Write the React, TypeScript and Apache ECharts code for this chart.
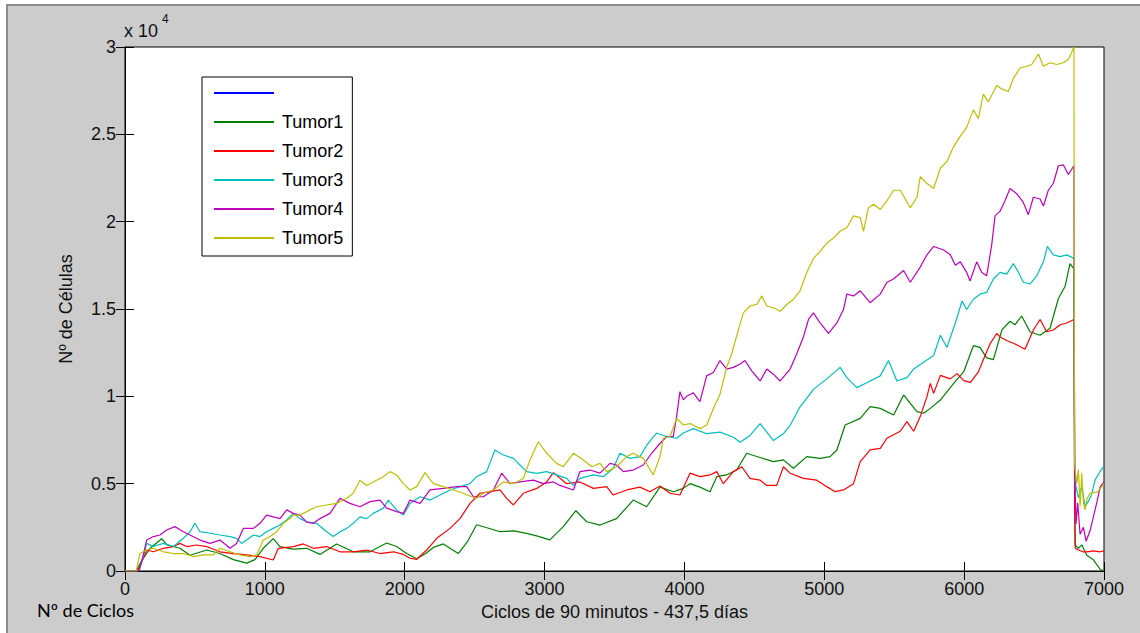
import React, { useEffect, useRef } from "react";
import * as echarts from "echarts";

const seriesNames = [" ", "Tumor1", "Tumor2", "Tumor3", "Tumor4", "Tumor5"];
const seriesColors = ["#0000ff", "#008000", "#ff0000", "#00bfbf", "#bf00bf", "#bfbf00"];

const xMin = 0;
const xMax = 7000;
const xInterval = 1000;
const yMin = 0;
const yMax = 30000;
const yInterval = 5000;

const blueLine: number[][] = [];

const tumor1: number[][] = [
  [0, 0], [80, 0], [120, 600], [180, 1300], [262, 1850], [300, 1500], [393, 1300], [465, 900], [584, 1200],
  [679, 1000], [775, 650], [870, 450], [929, 650], [989, 1300], [1060, 1850], [1108, 1400], [1203, 1250],
  [1299, 1300], [1394, 950], [1513, 1550], [1632, 1100], [1752, 1100], [1871, 1600], [1942, 1400], [2014, 1000],
  [2086, 700], [2150, 1000], [2205, 1350], [2276, 1550], [2383, 1000], [2450, 1700], [2514, 2650], [2600, 2450],
  [2681, 2250], [2780, 2300], [2872, 2150], [2950, 2000], [3038, 1780], [3134, 2540], [3224, 3450], [3301, 2820],
  [3396, 2630], [3515, 3000], [3634, 4060], [3730, 3680], [3825, 4800], [3921, 4540], [3992, 4730], [4040, 5000],
  [4111, 4800], [4183, 4540], [4231, 5400], [4300, 5500], [4374, 5780], [4445, 6740], [4540, 6500], [4636, 6260],
  [4708, 6360], [4779, 5880], [4875, 6550], [4970, 6450], [5042, 6550], [5090, 6930], [5149, 8360], [5257, 8740],
  [5328, 9410], [5400, 9310], [5496, 8930], [5567, 10080], [5662, 9120], [5710, 9030], [5758, 9310], [5830, 9790],
  [5925, 10740], [5997, 11410], [6066, 12900], [6113, 12800], [6161, 12200], [6209, 12100], [6270, 13800],
  [6328, 14300], [6364, 14100], [6411, 14600], [6471, 13700], [6543, 13500], [6614, 13900], [6674, 15600],
  [6722, 16300], [6757, 17600], [6785, 17300], [6793, 1500], [6817, 1300], [6841, 1500], [6877, 900],
  [6924, 640], [6972, 100], [7000, 0],
];

const tumor2: number[][] = [
  [0, 0], [90, 0], [130, 700], [155, 1200], [203, 1100], [274, 1300], [346, 1400], [393, 1580], [441, 1400],
  [512, 1490], [584, 1400], [679, 1100], [775, 1000], [870, 920], [965, 820], [1060, 630], [1096, 1300],
  [1203, 1400], [1275, 1550], [1347, 1300], [1442, 1400], [1537, 1100], [1632, 1100], [1728, 1200], [1823, 1000],
  [1918, 1100], [1990, 950], [2038, 730], [2086, 670], [2157, 1200], [2229, 1870], [2324, 2440], [2395, 3000],
  [2467, 3870], [2538, 4450], [2610, 4540], [2681, 4640], [2729, 4160], [2777, 3780], [2848, 4450], [2944, 4730],
  [3015, 5100], [3063, 5630], [3158, 5000], [3253, 5100], [3349, 4730], [3444, 4830], [3491, 4350], [3587, 4640],
  [3682, 4800], [3753, 4540], [3825, 4870], [3897, 4450], [3968, 4350], [4040, 5600], [4111, 5400], [4183, 5500],
  [4231, 5690], [4278, 5000], [4350, 5690], [4410, 5970], [4469, 5300], [4541, 5200], [4588, 4900], [4660, 4900],
  [4708, 5970], [4755, 5600], [4851, 5300], [4946, 5200], [5018, 4830], [5078, 4540], [5137, 4640], [5209, 5000],
  [5257, 6260], [5328, 6930], [5400, 7020], [5448, 7600], [5543, 8000], [5591, 8550], [5639, 8000], [5686, 8840],
  [5734, 9980], [5758, 10740], [5782, 10170], [5830, 11200], [5901, 11000], [5949, 11300], [5997, 10900],
  [6045, 10800], [6102, 11400], [6137, 12100], [6185, 13000], [6233, 13600], [6257, 13400], [6304, 13200],
  [6364, 13000], [6435, 12700], [6495, 13800], [6543, 14400], [6590, 13700], [6638, 13800], [6686, 14100],
  [6733, 14200], [6785, 14400], [6790, 3300], [6795, 1300], [6817, 1200], [6850, 1100], [6877, 1100],
  [6924, 1150], [6972, 1100], [7000, 1150],
];

const tumor3: number[][] = [
  [0, 0], [100, 0], [130, 800], [155, 1580], [203, 1400], [274, 1580], [346, 1400], [417, 1870], [465, 2250],
  [500, 2730], [536, 2250], [608, 2160], [679, 2060], [751, 1970], [798, 1870], [834, 1580], [870, 1770],
  [918, 2060], [965, 1970], [1013, 2250], [1060, 2440], [1108, 2630], [1156, 2920], [1203, 3300], [1251, 3000],
  [1299, 2820], [1370, 2730], [1442, 2250], [1489, 1970], [1537, 2250], [1585, 2440], [1632, 2730], [1680, 3100],
  [1728, 3000], [1775, 3300], [1847, 3600], [1883, 4060], [1942, 3500], [1990, 3200], [2038, 3870], [2110, 4250],
  [2181, 4060], [2253, 4350], [2324, 4640], [2395, 4830], [2467, 5000], [2514, 5400], [2586, 5690], [2645, 6930],
  [2705, 6640], [2777, 6450], [2824, 6070], [2872, 5690], [2944, 5590], [3015, 5690], [3086, 5500], [3158, 5300],
  [3206, 4900], [3253, 5300], [3349, 5500], [3420, 5400], [3491, 5880], [3539, 6740], [3611, 6450], [3682, 6550],
  [3730, 7200], [3801, 7900], [3873, 7700], [3944, 7600], [3992, 7900], [4064, 8150], [4159, 7860], [4254, 7950],
  [4350, 7660], [4398, 7370], [4469, 7760], [4541, 8440], [4589, 7950], [4636, 7470], [4708, 7860], [4756, 8340],
  [4827, 9400], [4923, 10400], [5018, 11000], [5113, 11660], [5161, 11070], [5233, 10500], [5304, 10780],
  [5400, 11170], [5459, 12050], [5519, 10880], [5591, 11070], [5639, 11560], [5710, 11950], [5782, 12340],
  [5830, 13500], [5877, 12800], [5937, 14200], [5985, 15460], [6018, 14970], [6066, 15560], [6113, 15850],
  [6161, 15950], [6209, 16720], [6257, 17100], [6304, 17000], [6352, 17600], [6388, 17100], [6423, 16530],
  [6471, 16430], [6519, 16900], [6567, 17700], [6595, 18580], [6638, 18100], [6686, 18000], [6733, 18100],
  [6785, 17900], [6790, 5200], [6817, 4200], [6841, 4800], [6865, 3700], [6889, 4000], [6912, 4400],
  [6936, 5200], [6972, 5700], [7000, 6000],
];

const tumor4: number[][] = [
  [0, 0], [100, 0], [130, 900], [155, 1770], [203, 1970], [250, 2060], [298, 2350], [357, 2540], [417, 2250],
  [465, 2060], [536, 1770], [608, 1580], [679, 1770], [751, 1300], [798, 1580], [846, 2440], [918, 2440],
  [965, 2730], [1013, 3200], [1060, 3100], [1108, 3000], [1156, 3500], [1203, 3300], [1251, 3200], [1299, 2800],
  [1347, 2730], [1394, 3000], [1466, 3300], [1537, 4160], [1608, 3870], [1680, 3680], [1752, 3970], [1823, 4060],
  [1871, 3600], [1942, 3400], [1990, 3300], [2038, 4060], [2110, 3870], [2181, 4640], [2276, 4730], [2371, 4830],
  [2443, 4830], [2491, 4250], [2562, 4250], [2634, 4640], [2693, 5600], [2753, 5000], [2824, 5100], [2920, 5200],
  [2991, 5000], [3063, 5100], [3110, 4900], [3206, 4640], [3253, 5690], [3325, 5780], [3396, 5600], [3468, 6160],
  [3515, 6070], [3563, 5690], [3634, 5780], [3706, 6070], [3765, 6740], [3825, 7300], [3873, 7700], [3920, 7700],
  [3944, 8840], [3968, 10270], [3992, 9800], [4016, 10000], [4064, 10200], [4111, 9700], [4159, 11170],
  [4207, 11360], [4254, 12050], [4302, 11560], [4350, 11660], [4398, 11850], [4433, 12050], [4481, 11460],
  [4541, 10880], [4589, 11560], [4636, 11270], [4684, 10880], [4756, 11560], [4803, 12440], [4851, 13400],
  [4887, 14400], [4923, 14780], [4970, 14200], [5030, 13600], [5090, 14200], [5137, 14970], [5161, 15850],
  [5209, 15750], [5257, 16040], [5328, 15360], [5400, 15850], [5448, 16530], [5495, 16720], [5567, 17200],
  [5615, 16530], [5686, 17400], [5734, 18100], [5782, 18580], [5854, 18380], [5901, 18100], [5937, 17500],
  [5973, 17700], [6018, 17100], [6042, 16600], [6090, 17700], [6125, 17100], [6161, 16900], [6197, 18670],
  [6221, 20330], [6257, 20600], [6292, 21200], [6328, 21900], [6376, 21600], [6423, 21100], [6459, 20400],
  [6495, 21400], [6543, 21300], [6567, 20900], [6602, 21800], [6638, 22200], [6674, 23200], [6710, 23250],
  [6745, 22700], [6785, 23200], [6790, 5800], [6800, 2700], [6812, 3900], [6829, 2100], [6853, 2500],
  [6872, 1700], [6900, 2300], [6924, 3100], [6948, 3900], [6972, 4800], [7000, 5100],
];

const tumor5: number[][] = [
  [0, 0], [80, 0], [107, 1000], [155, 1200], [203, 1300], [274, 1100], [346, 1000], [417, 1000], [489, 820],
  [560, 920], [632, 920], [679, 1300], [751, 1100], [822, 920], [894, 820], [941, 920], [989, 1770], [1037, 1970],
  [1084, 2250], [1132, 2730], [1180, 3000], [1203, 3200], [1251, 3200], [1323, 3500], [1370, 3680], [1442, 3780],
  [1513, 3870], [1585, 4160], [1632, 4450], [1680, 5200], [1728, 4900], [1799, 5200], [1847, 5400], [1895, 5690],
  [1942, 5500], [1990, 5000], [2038, 4640], [2086, 4830], [2145, 5630], [2205, 5000], [2276, 4830], [2348, 4640],
  [2419, 4450], [2479, 4250], [2514, 4160], [2562, 4450], [2634, 4640], [2705, 5100], [2777, 5000], [2848, 5300],
  [2896, 6360], [2955, 7400], [3015, 6740], [3086, 6160], [3134, 5970], [3206, 6740], [3277, 6360], [3337, 5970],
  [3396, 6160], [3444, 5690], [3515, 5970], [3587, 6550], [3634, 6740], [3706, 6450], [3777, 5500], [3825, 6550],
  [3849, 7600], [3897, 7700], [3944, 8740], [3992, 8360], [4040, 8440], [4111, 8150], [4159, 8340], [4207, 9300],
  [4254, 10100], [4302, 11660], [4338, 12440], [4386, 13800], [4421, 14780], [4469, 15170], [4517, 15260],
  [4553, 15750], [4589, 15170], [4636, 15070], [4684, 14870], [4732, 15260], [4780, 15560], [4827, 16040],
  [4875, 17100], [4923, 17900], [4970, 18300], [5018, 18770], [5066, 19060], [5113, 19450], [5161, 19650],
  [5209, 20330], [5257, 20230], [5280, 19450], [5316, 20800], [5352, 21000], [5400, 20700], [5448, 21200],
  [5495, 21800], [5543, 21800], [5615, 20800], [5663, 21400], [5686, 22570], [5734, 22180], [5782, 21900],
  [5830, 23060], [5877, 23450], [5925, 24300], [5973, 24900], [6018, 25400], [6066, 26400], [6102, 25900],
  [6137, 27300], [6173, 26860], [6233, 27800], [6269, 27600], [6316, 27450], [6352, 28200], [6400, 28800],
  [6447, 28900], [6483, 29000], [6531, 29600], [6567, 28900], [6614, 29100], [6662, 29000], [6710, 29100],
  [6745, 29300], [6769, 29700], [6785, 30000], [6790, 6100], [6805, 5000], [6817, 5800], [6829, 3700],
  [6841, 5600], [6853, 3900], [6865, 3500], [6877, 4100], [6900, 4450], [6924, 4500], [6948, 4500],
  [6972, 4700], [7000, 5000],
];

const allSeries = [blueLine, tumor1, tumor2, tumor3, tumor4, tumor5];

const FONT = "'Liberation Sans', Arial, Helvetica, sans-serif";

export default function App() {
  const ref = useRef<HTMLDivElement>(null);

  useEffect(() => {
    document.body.style.margin = "0";
    if (!ref.current) return;
    const chart = echarts.init(ref.current, undefined, { renderer: "svg" });

    const tickStyle = { show: true, inside: true, length: 9, lineStyle: { color: "#000", width: 1 } };
    const lineStyleAxis = { show: true, lineStyle: { color: "#000", width: 1 } };

    chart.setOption({
      animation: false,
      backgroundColor: "transparent",
      textStyle: { fontFamily: FONT },
      grid: {
        left: 125,
        top: 47,
        width: 979,
        height: 524,
        show: true,
        backgroundColor: "#ffffff",
        borderColor: "#000",
        borderWidth: 1,
      },
      legend: {
        orient: "vertical",
        left: 202,
        top: 77,
        data: seriesNames,
        icon: "rect",
        itemWidth: 60,
        itemHeight: 2,
        itemGap: 11,
        itemStyle: { borderWidth: 0 },
        padding: [7, 9, 9, 12],
        backgroundColor: "#ffffff",
        borderColor: "#000",
        borderWidth: 1,
        selectedMode: false,
        textStyle: { fontSize: 18, lineHeight: 18, color: "#000", fontFamily: FONT, padding: [0, 0, 0, 3] },
      },
      xAxis: [
        {
          type: "value",
          min: xMin,
          max: xMax,
          interval: xInterval,
          position: "bottom",
          splitLine: { show: false },
          axisLine: lineStyleAxis,
          axisTick: tickStyle,
          axisLabel: {
            fontSize: 18,
            color: "#111",
            margin: 9,
            fontFamily: FONT,
            formatter: (v: number) => String(v),
          },
          name: "Ciclos de 90 minutos - 437,5 días",
          nameLocation: "middle",
          nameGap: 31,
          nameTextStyle: { fontSize: 18, color: "#111", fontFamily: FONT },
        },
        {
          type: "value",
          min: xMin,
          max: xMax,
          interval: xInterval,
          position: "top",
          splitLine: { show: false },
          axisLine: lineStyleAxis,
          axisTick: tickStyle,
          axisLabel: { show: false },
        },
      ],
      yAxis: [
        {
          type: "value",
          min: yMin,
          max: yMax,
          interval: yInterval,
          position: "left",
          splitLine: { show: false },
          axisLine: lineStyleAxis,
          axisTick: tickStyle,
          axisLabel: {
            fontSize: 18,
            color: "#111",
            margin: 9,
            fontFamily: FONT,
            formatter: (v: number) => String(v / 10000),
          },
          name: "Nº de Células",
          nameLocation: "middle",
          nameGap: 50,
          nameRotate: 90,
          nameTextStyle: { fontSize: 18, color: "#111", fontFamily: FONT },
        },
        {
          type: "value",
          min: yMin,
          max: yMax,
          interval: yInterval,
          position: "right",
          splitLine: { show: false },
          axisLine: lineStyleAxis,
          axisTick: tickStyle,
          axisLabel: { show: false },
        },
      ],
      graphic: [
        {
          type: "text",
          left: 124,
          top: 22,
          style: { text: "x 10", fontSize: 18, fill: "#111", fontFamily: FONT },
        },
        {
          type: "text",
          left: 162,
          top: 13,
          style: { text: "4", fontSize: 12, fill: "#111", fontFamily: FONT },
        },
        {
          type: "text",
          left: 37,
          top: 601,
          style: { text: "Nº de Ciclos", fontSize: 18, fill: "#000", fontFamily: "Lato, 'Open Sans', sans-serif" },
        },
      ],
      series: allSeries.map((d, i) => ({
        type: "line",
        name: seriesNames[i],
        data: d,
        xAxisIndex: 0,
        yAxisIndex: 0,
        showSymbol: false,
        symbol: "none",
        color: seriesColors[i],
        lineStyle: { width: 1.2, color: seriesColors[i] },
        clip: true,
      })),
    });

    return () => {
      chart.dispose();
    };
  }, []);

  return (
    <div style={{ position: "relative", width: 1140, height: 633, background: "#ffffff", overflow: "hidden" }}>
      <div
        style={{
          position: "absolute",
          left: 6,
          top: 4,
          right: 0,
          bottom: 0,
          background: "#cccccc",
          borderTop: "2px solid #8c8c8c",
          borderLeft: "2px solid #8c8c8c",
        }}
      />
      <div ref={ref} style={{ position: "absolute", left: 0, top: 0, width: 1140, height: 633 }} />
    </div>
  );
}
